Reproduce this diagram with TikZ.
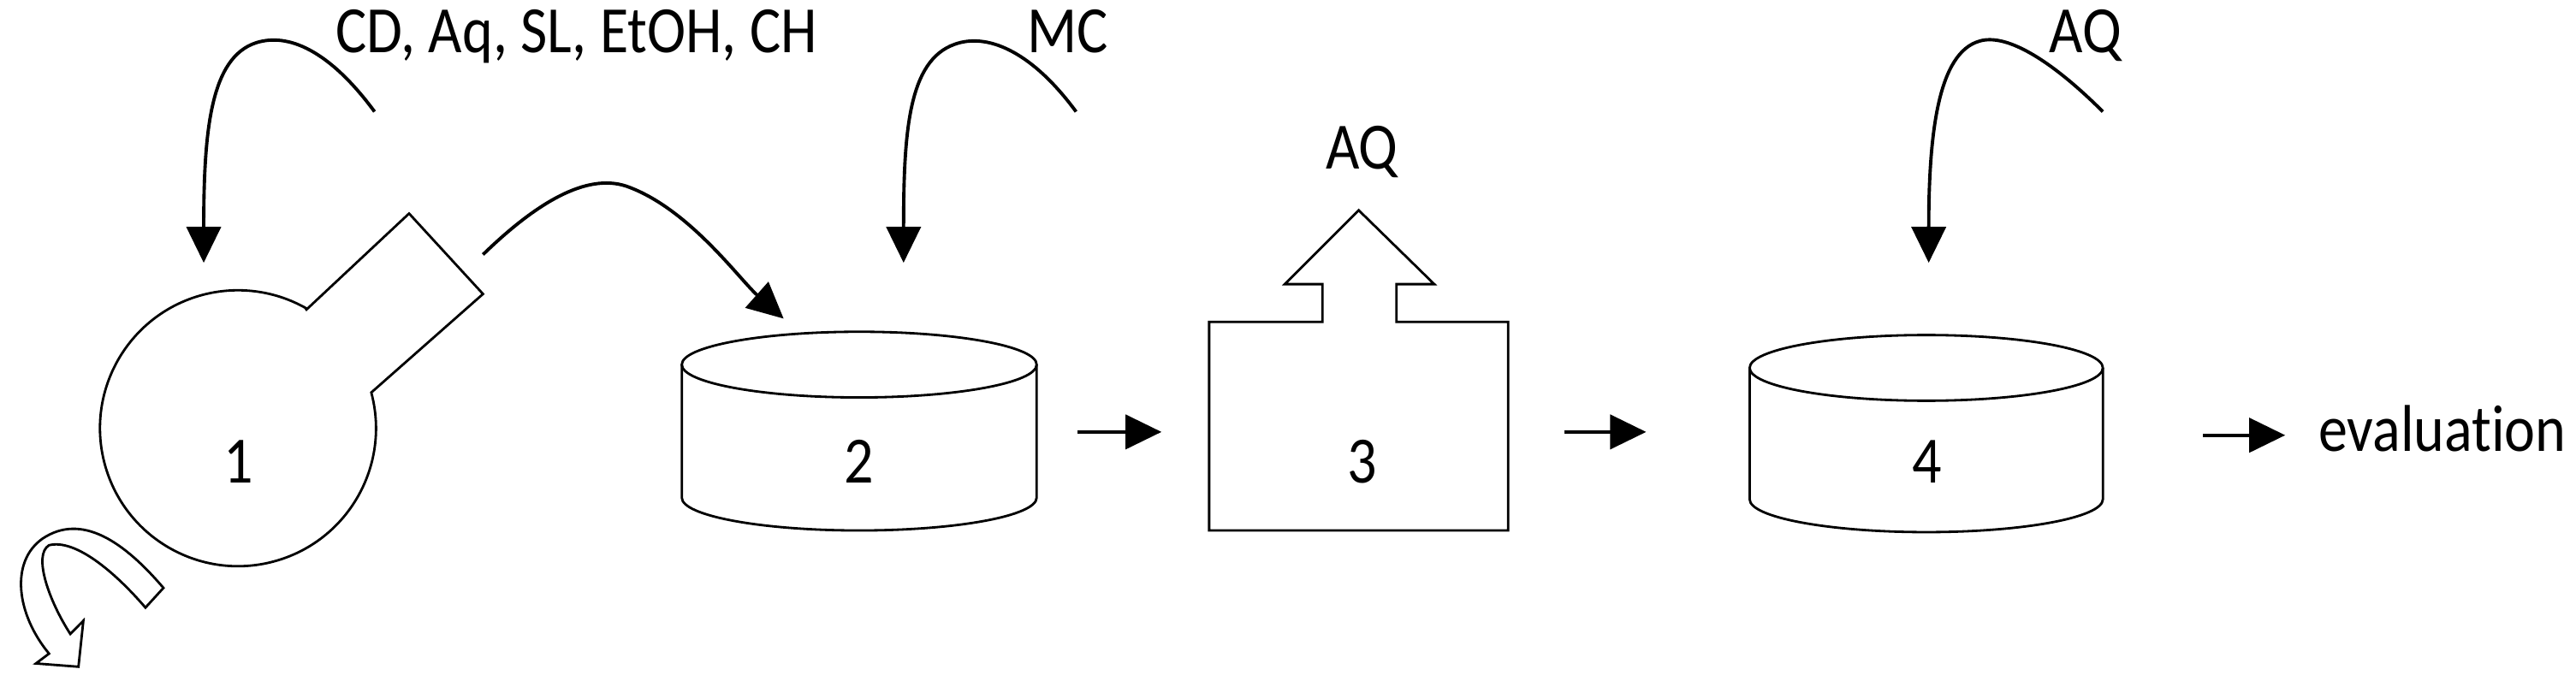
\documentclass[tikz,border=0pt]{standalone}
\usepackage{fontspec}
\setmainfont{Carlito}[Ligatures=NoCommon,FakeStretch=0.88]
\usetikzlibrary{arrows.meta}
\begin{document}
\begin{tikzpicture}[x=0.0192cm,y=-0.0192cm,
  shape line/.style={line width=0.8pt},
  flow/.style={line width=1.1pt,-{Triangle[length=0.42cm,width=0.4cm]}},
  lbl/.style={font=\fontsize{22}{24}\selectfont,inner sep=0pt}]
\useasboundingbox (0,0) rectangle (1568,418);
% flask 1
\draw[shape line] (186,189) -- (249,130) -- (294,179) -- (226,239)
  arc[start angle=-15,end angle=300,radius=84];
\node[lbl] (n1) at (145,281) {1};
% rotation arrow
\begin{scope}[shift={(0,104)},x=0.199*0.0192cm,y=-0.2*0.0192cm,shape line]
\draw (500,1270) .. controls (380,1130) and (250,1040) .. (130,1120)
  .. controls (30,1190) and (50,1350) .. (150,1470) -- (110,1500) -- (240,1510)
  -- (255,1370) -- (215,1410) .. controls (150,1310) and (100,1170) .. (150,1140)
  .. controls (230,1120) and (350,1220) .. (445,1330) -- cycle;
\end{scope}
% cylinders
\draw[shape line] (415,222) -- (415,303) arc[start angle=180,end angle=0,x radius=108,y radius=20] -- (631,222);
\draw[shape line] (523,222) ellipse[x radius=108,y radius=20];
\node[lbl] (n2) at (523,281) {2};
\draw[shape line] (1065,224) -- (1065,304) arc[start angle=180,end angle=0,x radius=107.5,y radius=20] -- (1280,224);
\draw[shape line] (1172.5,224) ellipse[x radius=107.5,y radius=20];
\node[lbl] (n4) at (1173,281) {4};
% box 3
\draw[shape line] (736,196) -- (805,196) -- (805,173) -- (782,173) -- (827,128) -- (873,173) -- (850,173) -- (850,196) -- (918,196) -- (918,323) -- (736,323) -- cycle;
\node[lbl] (n3) at (829,281) {3};
% labels
\node[lbl,anchor=base west] (t1) at (204,32) {CD, Aq, SL, EtOH, CH};
\node[lbl,anchor=base west] (t2) at (625,32) {MC};
\node[lbl,anchor=base] (t3) at (829,103) {AQ};
\node[lbl,anchor=base west] (t4) at (1247,32) {AQ};
\node[lbl,anchor=base west] (ev) at (1411,275) {evaluation};
% curved arrows
\coordinate (a1s) at (228,68); \coordinate (a1e) at (124,160);
\coordinate (a2s) at (655,68); \coordinate (a2e) at (550,160);
\coordinate (a3s) at (1280,68); \coordinate (a3e) at (1174,160);
\coordinate (a4s) at (294,155); \coordinate (a4e) at (477,194);
\draw[flow] (a1s) .. controls (200,30) and (175,20) .. (156,26) .. controls (128,35) and (124,80) .. (a1e);
\draw[flow] (a2s) .. controls (627,30) and (600,20) .. (581,27) .. controls (553,37) and (550,80) .. (a2e);
\draw[flow] (a3s) .. controls (1250,38) and (1222,20) .. (1205,25) .. controls (1180,32) and (1174,80) .. (a3e);
\draw[flow] (a4s) .. controls (330,120) and (360,105) .. (383,114) .. controls (420,128) and (450,170) .. (a4e);
% straight arrows
\coordinate (s1) at (656,263); \coordinate (e1) at (707,263);
\coordinate (s2) at (952,263); \coordinate (e2) at (1002,263);
\coordinate (s3) at (1341,265); \coordinate (e3) at (1391,265);
\draw[flow] (s1) -- (e1);
\draw[flow] (s2) -- (e2);
\draw[flow] (s3) -- (e3);
\end{tikzpicture}
\end{document}
